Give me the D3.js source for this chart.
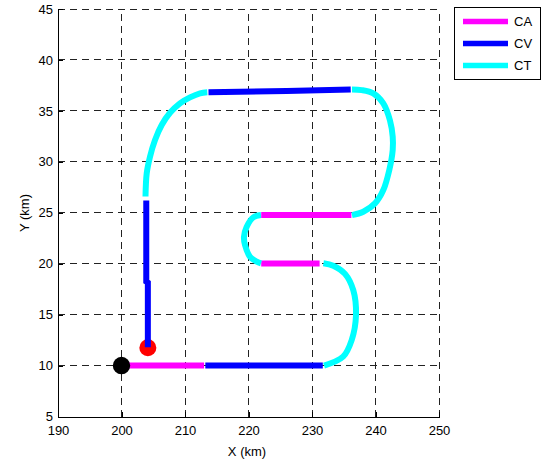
<!DOCTYPE html>
<html>
<head>
<meta charset="utf-8">
<script src="https://cdn.jsdelivr.net/npm/d3@7"></script>
<style>
  html, body { margin: 0; padding: 0; background: #fff; }
  svg { display: block; font-family: "Liberation Sans", Arial, sans-serif; }
</style>
</head>
<body>
<svg id="chart" width="547" height="463"></svg>
<script>
// ---- data (km) ----
const xTicks = [190, 200, 210, 220, 230, 240, 250];
const yTicks = [5, 10, 15, 20, 25, 30, 35, 40, 45];

const legendLabels = ["CA", "CV", "CT"];
const legendColors = ["#ff00ff", "#0000ff", "#00ffff"];

// segments of the track, in travel order: [mode, points]
const seg1CA = [[200, 10], [213, 10]];
const seg2CV = [[213.2, 10], [231.7, 10]];
const seg3CT = [[231.9, 10], [234.9, 10.87], [236.25, 12.5], [236.93, 14.96], [236.5, 17.4], [235.2, 19.0], [233.35, 19.8], [231.8, 20.05]];
const seg4CA = [[231.2, 20.03], [222, 20.03]];
const seg5CT = [[221.97, 20.03], [221.3, 20.2], [220.24, 20.68], [219.45, 21.83], [219.29, 22.64], [219.7, 23.6], [220.75, 24.55], [221.97, 24.77]];
const seg6CA = [[222, 24.77], [236.2, 24.77]];
const seg7CT = [[236.3, 24.77], [238.08, 25.1], [239.92, 25.92], [241.23, 27.23], [242.17, 29.19], [242.71, 31.15], [242.71, 32.46], [242.28, 34.06], [241.23, 35.74], [239.65, 36.72], [237.83, 37.04], [236.3, 37.1]];
const seg8CV = [[236.1, 37.1], [226, 36.95], [213.7, 36.82]];
const seg9CT = [[213.51, 36.82], [212.36, 36.72], [210.79, 36.32], [209.21, 35.74], [207.64, 34.81], [206.33, 33.61], [205.28, 32.14], [204.49, 30.5], [203.97, 28.87], [203.78, 26.6]];
const seg10CV = [[203.9, 26.2], [203.9, 18.25], [204.15, 18.15], [204.15, 11.8]];

const segments = [
  ["CA", seg1CA], ["CV", seg2CV], ["CT", seg3CT], ["CA", seg4CA], ["CT", seg5CT],
  ["CA", seg6CA], ["CT", seg7CT], ["CV", seg8CV], ["CT", seg9CT], ["CV", seg10CV]
];

const startPoint = [200, 10];
const endPoint = [204.15, 11.75];

// ---- layout ----
const svg = d3.select("#chart");
const x = d3.scaleLinear().domain([190, 250]).range([58, 439]);
const y = d3.scaleLinear().domain([5, 45]).range([416.5, 9]);
const color = d3.scaleOrdinal().domain(legendLabels).range(legendColors);

// grid
const grid = svg.append("g");
grid.selectAll(".gx").data(xTicks.slice(1)).enter().append("line")
  .attr("x1", d => x(d)).attr("x2", d => x(d))
  .attr("y1", y(5)).attr("y2", y(45))
  .attr("stroke", "#222").attr("stroke-width", 1).attr("stroke-dasharray", "7,5")
  .attr("shape-rendering", "crispEdges");
grid.selectAll(".gy").data(yTicks.slice(1)).enter().append("line")
  .attr("y1", d => y(d)).attr("y2", d => y(d))
  .attr("x1", x(190)).attr("x2", x(250))
  .attr("stroke", "#222").attr("stroke-width", 1).attr("stroke-dasharray", "7,5")
  .attr("shape-rendering", "crispEdges");

// axes
const xAxis = d3.axisBottom(x).tickValues(xTicks).tickSize(-5).tickPadding(9);
const yAxis = d3.axisLeft(y).tickValues(yTicks).tickSize(-5).tickPadding(5);
const gx = svg.append("g").attr("transform", `translate(0,${y(5)})`).call(xAxis);
const gy = svg.append("g").attr("transform", `translate(${x(190)},0)`).call(yAxis);
[gx, gy].forEach(g => {
  g.select(".domain").attr("stroke", "#000").attr("shape-rendering", "crispEdges");
  g.selectAll(".tick line").attr("stroke", "#000").attr("shape-rendering", "crispEdges");
  g.selectAll(".tick text").attr("font-size", 13).attr("fill", "#000")
    .attr("font-family", "Liberation Sans, Arial, sans-serif");
});

// track
const curved = d3.line().x(d => x(d[0])).y(d => y(d[1])).curve(d3.curveCatmullRom.alpha(0.5));
const straight = d3.line().x(d => x(d[0])).y(d => y(d[1]));

// end marker (red) below blue line
svg.append("circle").attr("cx", x(endPoint[0])).attr("cy", y(endPoint[1])).attr("r", 8.5).attr("fill", "#ff0000");

svg.append("g").selectAll("path").data(segments).enter().append("path")
  .attr("d", d => (d[0] === "CT" ? curved : straight)(d[1]))
  .attr("fill", "none")
  .attr("stroke", d => color(d[0]))
  .attr("stroke-width", 6)
  .attr("stroke-linecap", "butt")
  .attr("stroke-linejoin", "miter");

// start marker (black)
svg.append("circle").attr("cx", x(startPoint[0])).attr("cy", y(startPoint[1])).attr("r", 8.7).attr("fill", "#000");

// axis labels
svg.append("text").attr("x", 247).attr("y", 456).attr("text-anchor", "middle")
  .attr("font-size", 13).text("X (km)");
svg.append("text").attr("transform", "translate(29,213) rotate(-90)").attr("text-anchor", "middle")
  .attr("font-size", 13).text("Y (km)");

// legend
const lg = svg.append("g");
lg.append("rect").attr("x", 454.5).attr("y", 7.5).attr("width", 86).attr("height", 72)
  .attr("fill", "#fff").attr("stroke", "#000").attr("stroke-width", 1);
const items = lg.selectAll(".item").data(legendLabels).enter().append("g")
  .attr("transform", (d, i) => `translate(0,${21.5 + i * 22})`);
items.append("line").attr("x1", 463).attr("x2", 508).attr("y1", 0).attr("y2", 0)
  .attr("stroke", d => color(d)).attr("stroke-width", 5.5);
items.append("text").attr("x", 514).attr("y", 4.5).attr("font-size", 13).text(d => d);
</script>
</body>
</html>
